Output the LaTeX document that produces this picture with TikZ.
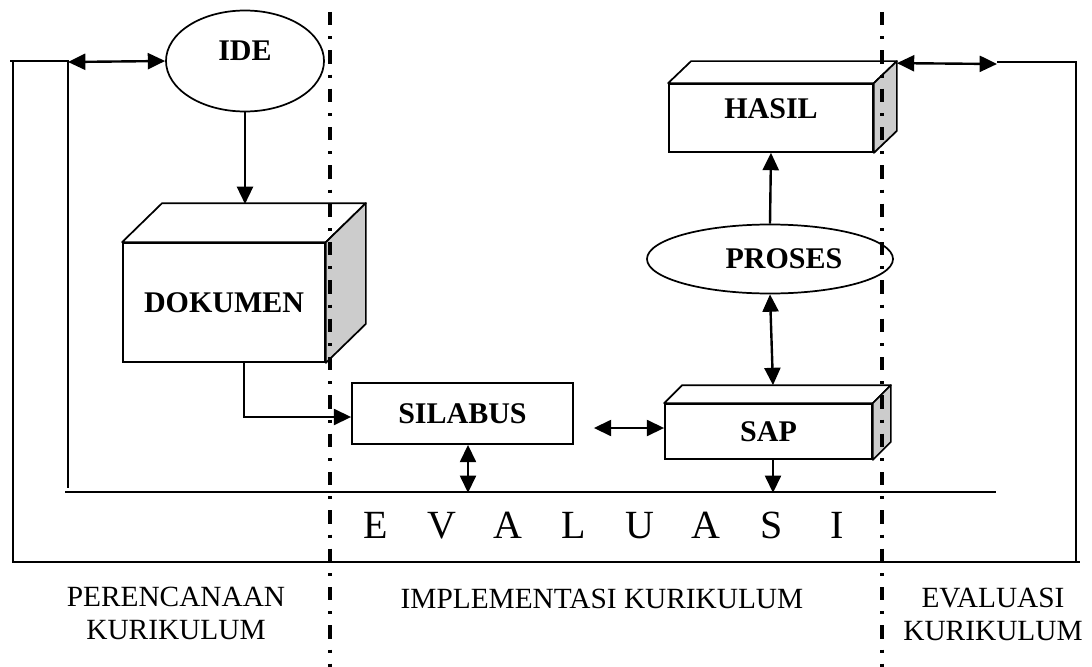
\documentclass[tikz,border=0pt]{standalone}
\usepackage{fontspec}
\setmainfont{Liberation Serif}
\usetikzlibrary{arrows.meta,shapes.geometric,calc}
\definecolor{sidegray}{gray}{0.8}
\tikzset{
  boldfont/.style={font=\fontsize{22.5}{27}\selectfont\bfseries},
  boxfront/.style={draw,line width=1.3pt,fill=white,inner sep=0pt,boldfont},
  oval/.style={ellipse,draw,line width=1.3pt,fill=white,inner sep=0pt,boldfont},
  face/.style={draw,line width=1.3pt,line join=round},
  tip/.tip={Triangle[length=13pt,width=12pt]},
  conn/.style={line width=1.8pt,-tip},
  dconn/.style={line width=1.8pt,tip-tip},
  frameline/.style={line width=1.3pt},
  evalline/.style={line width=1.8pt},
  divider/.style={line width=2.8pt,dash pattern=on 10pt off 8.25pt on 2.25pt off 8.25pt},
  lbl/.style={font=\fontsize{22}{24.75}\selectfont,inner sep=0pt,align=center},
  baseline on center/.style={text height=14.9pt,text depth=14.9pt},
}
\newcommand{\cuboidfaces}[3]{%
  \draw[face,fill=white] (#1.north west) -- ++(#2,#3) -- ($(#1.north east)+(#2,#3)$) -- (#1.north east) -- cycle;
  \draw[face,fill=sidegray] (#1.north east) -- ++(#2,#3) -- ($(#1.south east)+(#2,#3)$) -- (#1.south east) -- cycle;
}
\begin{document}
\begin{tikzpicture}[x=0.75pt,y=-0.75pt]
\useasboundingbox (0,0) rectangle (1092,667);

% outer frame coordinates
\coordinate (ftl) at (10,61);
\coordinate (fil) at (68,61);
\coordinate (fol) at (13,61);
\coordinate (fbl) at (13,562);
\coordinate (fbr) at (1080,562);
\coordinate (frb) at (1076,562);
\coordinate (frt) at (1076,62);
\coordinate (fra) at (997,62);
\coordinate (fib) at (68,488);
\coordinate (evl) at (65,492);
\coordinate (evr) at (996,492);

% nodes
\node[oval,minimum width=118.5pt,minimum height=75.75pt,baseline on center] (ide) at (245,61) {IDE};
\node[boxfront,minimum width=151.5pt,minimum height=89.25pt] (dok) at (224,302.5) {DOKUMEN};
\cuboidfaces{dok}{40}{-39}
\node[boxfront,minimum width=165.75pt,minimum height=45.75pt] (sil) at (462.5,413.5) {SILABUS};
\node[boxfront,minimum width=155.25pt,minimum height=41.25pt] (sap) at (768.5,431.5) {SAP};
\cuboidfaces{sap}{18}{-18}
\node[boxfront,minimum width=153pt,minimum height=51pt,baseline on center] (has) at (771,118) {HASIL};
\cuboidfaces{has}{23}{-22}
\node[oval,minimum width=184.5pt,minimum height=51.75pt] (pro) at (770,259) {\hspace*{21pt}PROSES};

% frame
\draw[frameline] (ftl) -- (fil) -- (fib);
\draw[frameline] (fol) -- (fbl) -- (fbr);
\draw[frameline] (fra) -- (frt) -- (frb);
\draw[evalline] (evl) -- (evr);

% connectors
\draw[dconn] (68,62) -- (ide.west);
\draw[conn] (ide.south) -- (245,204);
\draw[conn] ($(dok.south)+(20,0)$) |- ($(sil.west)+(0,3.5)$);
\draw[dconn] ($(sil.east)+(20,14.5)$) -- ($(sap.west)+(0,-3.5)$);
\draw[dconn] ($(sil.south)+(5.5,0)$) -- ($(sil.south)+(5.5,48)$);
\draw[conn] (pro.north) -- (has.south);
\draw[dconn] (pro.south) -- ($(sap.north)+(4.5,-18)$);
\draw[conn] ($(sap.south)+(4.5,0)$) -- ($(sap.south)+(4.5,33)$);
\draw[dconn] ($(has.north east)+(23,-20)$) -- (997,64);

% texts
\node[lbl,anchor=base] (evaltxt) at (606.5,538) {\fontsize{30}{36}\selectfont
  \makebox[49.5pt]{E}\makebox[49.5pt]{V}\makebox[49.5pt]{A}\makebox[49.5pt]{L}\makebox[49.5pt]{U}\makebox[49.5pt]{A}\makebox[49.5pt]{S}\makebox[49.5pt]{I}};
\node[lbl] (plan) at (176,613) {PERENCANAAN\\KURIKULUM};
\node[lbl,anchor=base] (impl) at (602,608) {IMPLEMENTASI KURIKULUM};
\node[lbl] (evk) at (993,614) {EVALUASI\\KURIKULUM};

% dividers
\coordinate (d1t) at (330,12);
\coordinate (d1b) at (330,667);
\coordinate (d2t) at (882,12);
\coordinate (d2b) at (882,667);
\draw[divider] (d1t) -- (d1b);
\draw[divider] (d2t) -- (d2b);
\end{tikzpicture}
\end{document}
